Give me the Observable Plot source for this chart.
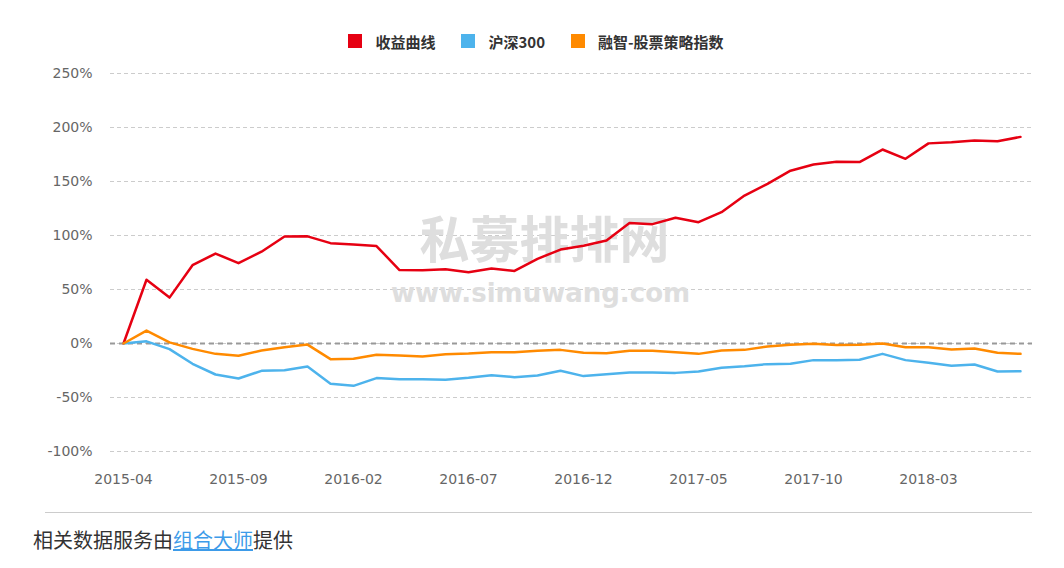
<!DOCTYPE html>
<html><head><meta charset="utf-8">
<script src="https://cdn.jsdelivr.net/npm/d3@7"></script>
<script src="https://cdn.jsdelivr.net/npm/@observablehq/plot@0.6"></script>
<style>
body{margin:0;background:#fff;width:1064px;font-family:"Noto Sans CJK SC","Noto Sans",sans-serif;}
#legend{height:60px;box-sizing:border-box;padding-top:22px;display:flex;justify-content:center;align-items:center;padding-left:8px;font-size:15px;font-weight:700;color:#333}
.item{display:flex;align-items:center;margin:0 13px}
.sw{width:14px;height:14px;margin-right:13px}
#sep{margin-left:45px;width:987px;border-top:1px solid #ccc;height:0}
#cap{margin:13px 0 0 33px;font-size:20px;color:#333;line-height:28px}
#cap a{color:#3d9be9;text-decoration:underline}
</style></head><body>
<div id="legend"></div>
<div id="chart"></div>
<div id="sep"></div>
<div id="cap">相关数据服务由<a>组合大师</a>提供</div>
<script>
const months = ["2015-04","2015-05","2015-06","2015-07","2015-08","2015-09","2015-10","2015-11","2015-12",
  "2016-01","2016-02","2016-03","2016-04","2016-05","2016-06","2016-07","2016-08","2016-09","2016-10","2016-11","2016-12",
  "2017-01","2017-02","2017-03","2017-04","2017-05","2017-06","2017-07","2017-08","2017-09","2017-10","2017-11","2017-12",
  "2018-01","2018-02","2018-03","2018-04","2018-05","2018-06","2018-07"];
const seriesNames = ["收益曲线","沪深300","融智-股票策略指数"];
const seriesColors = ["#e60012","#4db3ec","#ff8a00"];
const returns = [0,59,42.5,72.5,83.3,74.4,85,99,99.2,92.9,91.6,90.2,68,67.8,68.8,66,69.5,67.2,78.4,87,90.5,
  95.4,111.5,110.5,116.4,112.3,121.6,137,147.8,160,165.7,168.3,168,179.6,171,185.3,186.4,188,187.3,191.3];
const hs300 = [0,2,-5.2,-18.8,-28.7,-32.4,-25.3,-24.7,-21.3,-37.3,-39.2,-32,-33.2,-33,-33.6,-31.8,-29.3,-31.2,-29.6,-25.3,-30.2,
  -28.4,-26.9,-26.9,-27.2,-25.9,-22.4,-21,-19.1,-18.8,-15.4,-15.4,-15.1,-9.6,-15.4,-17.9,-20.6,-19.4,-25.9,-25.6];
const rzIndex = [0,12,1,-5,-9.6,-11.4,-6.5,-3.4,-1,-14.5,-14.2,-10.5,-11.1,-12,-9.9,-9.3,-8,-8,-6.8,-5.9,-8.6,
  -9,-6.8,-6.8,-8,-9.6,-6.4,-5.9,-2.8,-1.2,-0.3,-1.5,-1.2,0,-3.4,-3.4,-5.6,-4.6,-8.6,-9.6];
const yTicks = [-100,-50,0,50,100,150,200,250];
const xTicks = ["2015-04","2015-09","2016-02","2016-07","2016-12","2017-05","2017-10","2018-03"];
const watermark = ["私募排排网"];
const watermarkUrl = ["www.simuwang.com"];

// legend
const legend = document.getElementById("legend");
seriesNames.forEach((n, i) => {
  const it = document.createElement("div"); it.className = "item";
  const sw = document.createElement("div"); sw.className = "sw"; sw.style.background = seriesColors[i];
  const t = document.createElement("span"); t.textContent = n;
  it.appendChild(sw); it.appendChild(t); legend.appendChild(it);
});

const rows = [];
[returns, hs300, rzIndex].forEach((vals, s) => vals.forEach((v, i) => rows.push({month: months[i], value: v, series: seriesNames[s]})));

const chart = Plot.plot({
  width: 1064, height: 452,
  marginTop: 13, marginBottom: 61, marginLeft: 110, marginRight: 32,
  style: {fontFamily: "DejaVu Sans, sans-serif", fontSize: "14px", color: "#666", background: "#fff", overflow: "visible"},
  x: {type: "point", domain: months, padding: 0.5, label: null},
  y: {domain: [-100, 250], label: null},
  color: {domain: seriesNames, range: seriesColors},
  marks: [
    Plot.gridY(yTicks, {stroke: "#ccc", strokeOpacity: 1, strokeDasharray: "4,3"}),
    Plot.text(watermark, {text: d => d, frameAnchor: "middle", dx: -27, dy: -21, fontSize: 50, fontWeight: "bold",
      fontFamily: "Noto Sans CJK SC", fill: "#dedede", ariaLabel: "wm1"}),
    Plot.text(watermarkUrl, {text: d => d, frameAnchor: "middle", dx: -31, dy: 31, fontSize: 26, fontWeight: "bold",
      fontFamily: "DejaVu Sans", fill: "#dedede", ariaLabel: "wm2"}),
    Plot.ruleY([0], {stroke: "#999", strokeWidth: 2, strokeDasharray: "5,4"}),
    Plot.axisY(yTicks, {tickSize: 0, tickPadding: 18, tickFormat: d => d + "%", fill: "#666", label: null}),
    Plot.axisX(xTicks, {tickSize: 0, tickPadding: 23, fill: "#666", label: null}),
    Plot.line(rows, {x: "month", y: "value", z: "series", stroke: "series", strokeWidth: 2.5})
  ]
});
document.getElementById("chart").appendChild(chart);
d3.select(chart).selectAll('g[aria-label="wm1"] text').style("letter-spacing", "12px");
d3.select(chart).selectAll('g[aria-label="wm2"] text').style("letter-spacing", "0.5px");
</script>
</body></html>
